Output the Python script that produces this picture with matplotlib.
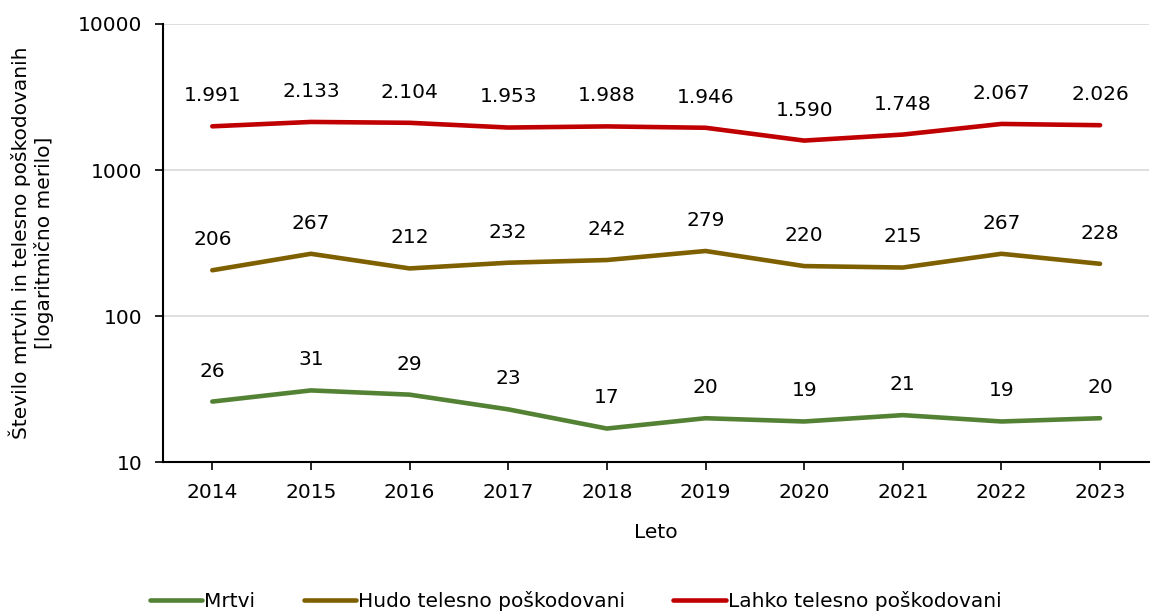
import matplotlib.pyplot as plt
from matplotlib.ticker import FixedLocator, NullLocator

years = ["2014", "2015", "2016", "2017", "2018", "2019", "2020", "2021", "2022", "2023"]
mrtvi = [26, 31, 29, 23, 17, 20, 19, 21, 19, 20]
hudo = [206, 267, 212, 232, 242, 279, 220, 215, 267, 228]
lahko = [1991, 2133, 2104, 1953, 1988, 1946, 1590, 1748, 2067, 2026]

series = [
    ("Mrtvi", mrtvi, "#548235"),
    ("Hudo telesno poškodovani", hudo, "#7F6000"),
    ("Lahko telesno poškodovani", lahko, "#C00000"),
]

fs = 14.5
plt.rcParams['font.family'] = ['DejaVu Sans']
fig = plt.figure(figsize=(11.51, 6.13), dpi=100)
ax = fig.add_axes([0.1416, 0.246, 0.857, 0.715])

x = list(range(len(years)))
for name, vals, col in series:
    ax.plot(x, vals, color=col, lw=3.3, label=name, solid_capstyle="round")
    for xi, v in zip(x, vals):
        txt = f"{v:,}".replace(",", ".")
        ax.annotate(txt, (xi, v), xytext=(0, 22), textcoords="offset points",
                    ha="center", va="center", fontsize=fs, color="black")

ax.set_yscale("log")
ax.set_ylim(10, 10000)
ax.yaxis.set_major_locator(FixedLocator([10, 100, 1000, 10000]))
ax.yaxis.set_minor_locator(NullLocator())
ax.set_yticklabels(["10", "100", "1000", "10000"])
ax.set_xlim(-0.5, len(years) - 0.5)
ax.set_xticks(x)
ax.set_xticklabels(years)
ax.tick_params(axis="both", labelsize=fs, direction="out", length=6, width=1.2, colors="black")
ax.tick_params(axis="x", pad=9)
ax.tick_params(axis="y", pad=9)

ax.grid(axis="y", color="#D9D9D9", lw=1.2)
ax.set_axisbelow(True)
for s in ["top", "right"]:
    ax.spines[s].set_visible(False)
for s in ["left", "bottom"]:
    ax.spines[s].set_linewidth(1.5)
    ax.spines[s].set_color("black")

ax.set_xlabel("Leto", fontsize=fs, labelpad=15)
ax.set_ylabel("Število mrtvih in telesno poškodovanih\n[logaritmično merilo]", fontsize=fs, labelpad=17)

fig.legend(loc="lower center", bbox_to_anchor=(0.5, -0.027), ncol=3, frameon=False,
           fontsize=fs, handlelength=2.6, handletextpad=0.1, columnspacing=2.4)

fig.savefig("out.png", dpi=100)
